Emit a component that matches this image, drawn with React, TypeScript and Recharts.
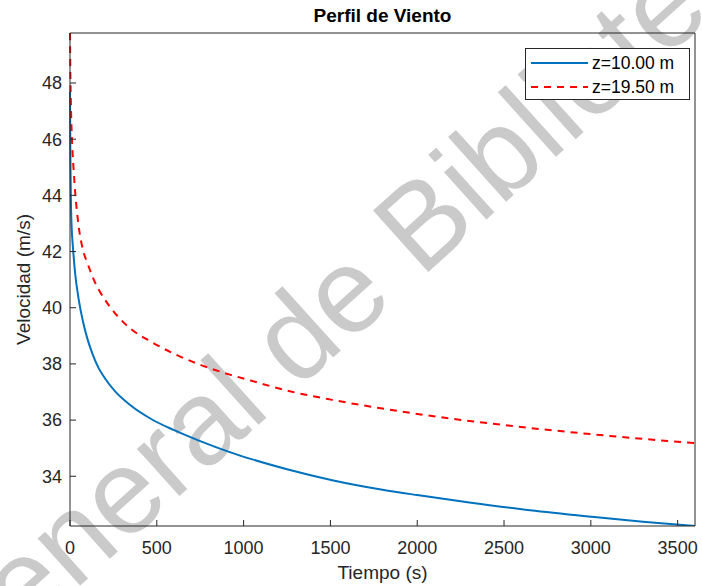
import React from 'react';
import { LineChart, Line, XAxis, YAxis } from 'recharts';

// Time samples (s) and velocities (m/s)
const TIME_S = [0, 2, 5, 10, 15, 20, 30, 50, 75, 100, 130, 165, 200, 260, 350, 470, 600, 750, 920, 1040, 1250, 1510, 1800, 2000, 2300, 2650, 3000, 3300, 3600];
const V_Z10 = [47.7, 45.5, 43.9, 42.8, 42.3, 41.9, 41.2, 40.3, 39.5, 38.9, 38.35, 37.85, 37.5, 37.02, 36.52, 36.03, 35.64, 35.25, 34.86, 34.62, 34.25, 33.86, 33.52, 33.33, 33.07, 32.79, 32.56, 32.38, 32.23];
const V_Z195 = [49.78, 48.4, 47.3, 46.2, 45.5, 45.0, 44.1, 42.9, 42.05, 41.6, 41.1, 40.65, 40.3, 39.8, 39.25, 38.78, 38.36, 37.97, 37.62, 37.41, 37.05, 36.72, 36.41, 36.22, 35.97, 35.72, 35.5, 35.33, 35.18];

const X_TICKS = [0, 500, 1000, 1500, 2000, 2500, 3000, 3500];
const Y_TICKS = [34, 36, 38, 40, 42, 44, 46, 48];
const SERIES_NAMES = ['z=10.00 m', 'z=19.50 m'];

const data = TIME_S.map((t, i) => ({ t, z10: V_Z10[i], z195: V_Z195[i] }));

const FONT = '"Liberation Sans", Arial, Helvetica, sans-serif';
const AXIS = '#262626';
const BLUE = '#0072BD';
const RED = '#FF0000';
const Y_DOMAIN = [32.23, 49.78];

const App = () => {
    const tickStyle = { fontSize: 18, fill: AXIS, fontFamily: FONT };

    return (
        <div style={{ position: 'absolute', left: 0, top: 0, width: 702, height: 586, background: '#fff', fontFamily: FONT }}>
            {/* watermark, behind everything */}
            <svg width={702} height={586} style={{ position: 'absolute', left: 0, top: 0 }}>
                <text
                    x={0}
                    y={0}
                    transform="translate(-45,698) rotate(-42)"
                    fontSize={120}
                    fontFamily={FONT}
                    fill="#cacaca"
                >
                    General de Biblioteca
                </text>
            </svg>

            <div style={{ position: 'absolute', left: 0, top: 0 }}>
                <LineChart width={702} height={586} data={data} margin={{ top: 32, right: 6, bottom: 0, left: 0 }}>
                    <XAxis
                        xAxisId="bottom"
                        dataKey="t"
                        type="number"
                        domain={[0, 3600]}
                        ticks={X_TICKS}
                        height={60}
                        stroke={AXIS}
                        tick={tickStyle}
                        tickSize={-6}
                        tickMargin={21}
                        interval={0}
                        label={{ value: 'Tiempo (s)', position: 'insideBottom', offset: 7, fontSize: 19, fill: AXIS, fontFamily: FONT }}
                    />
                    <XAxis
                        xAxisId="top"
                        orientation="top"
                        dataKey="t"
                        type="number"
                        domain={[0, 3600]}
                        ticks={X_TICKS}
                        height={1}
                        stroke={AXIS}
                        tick={false}
                        tickSize={-6}
                        interval={0}
                    />
                    <YAxis
                        yAxisId="left"
                        type="number"
                        domain={Y_DOMAIN}
                        ticks={Y_TICKS}
                        width={70}
                        stroke={AXIS}
                        tick={tickStyle}
                        tickSize={-6}
                        tickMargin={14}
                        interval={0}
                        allowDataOverflow
                        label={{ value: 'Velocidad (m/s)', angle: -90, position: 'center', dx: -12, fontSize: 19, fill: AXIS, fontFamily: FONT }}
                    />
                    <YAxis
                        yAxisId="right"
                        orientation="right"
                        type="number"
                        domain={Y_DOMAIN}
                        ticks={Y_TICKS}
                        width={1}
                        stroke={AXIS}
                        tick={false}
                        tickSize={-6}
                        interval={0}
                        allowDataOverflow
                    />
                    <Line
                        xAxisId="bottom"
                        yAxisId="left"
                        type="monotone"
                        dataKey="z10"
                        name={SERIES_NAMES[0]}
                        stroke={BLUE}
                        strokeWidth={2}
                        dot={false}
                        isAnimationActive={false}
                    />
                    <Line
                        xAxisId="bottom"
                        yAxisId="left"
                        type="monotone"
                        dataKey="z195"
                        name={SERIES_NAMES[1]}
                        stroke={RED}
                        strokeWidth={2}
                        strokeDasharray="7 6"
                        dot={false}
                        isAnimationActive={false}
                    />
                </LineChart>
            </div>

            {/* title */}
            <div style={{ position: 'absolute', left: 70, width: 625, top: 5, textAlign: 'center', fontWeight: 'bold', fontSize: 19, color: '#000' }}>
                Perfil de Viento
            </div>

            {/* legend */}
            <div style={{ position: 'absolute', left: 525, top: 48, width: 163, height: 50, border: `1px solid ${AXIS}`, background: '#fff' }}>
                {SERIES_NAMES.map((name, i) => (
                    <div key={name} style={{ position: 'absolute', left: 0, top: i === 0 ? 3 : 27, height: 22, display: 'flex', alignItems: 'center' }}>
                        <svg width={66} height={22}>
                            <line
                                x1={5}
                                x2={62}
                                y1={11}
                                y2={11}
                                stroke={i === 0 ? BLUE : RED}
                                strokeWidth={2}
                                strokeDasharray={i === 0 ? undefined : '7 6'}
                            />
                        </svg>
                        <span style={{ fontSize: 17.5, color: '#000', whiteSpace: 'nowrap' }}>{name}</span>
                    </div>
                ))}
            </div>
        </div>
    );
};

export default App;
